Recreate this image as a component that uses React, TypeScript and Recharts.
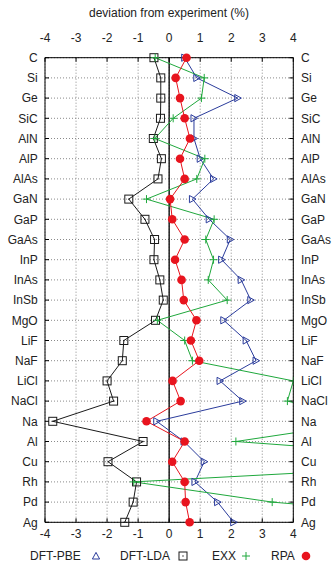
import React from 'react';
import {
  LineChart,
  Line,
  XAxis,
  YAxis,
  CartesianGrid,
  ReferenceLine,
} from 'recharts';

// materials, top to bottom
const materials = [
  'C', 'Si', 'Ge', 'SiC', 'AlN', 'AlP', 'AlAs', 'GaN', 'GaP', 'GaAs', 'InP', 'InAs',
  'InSb', 'MgO', 'LiF', 'NaF', 'LiCl', 'NaCl', 'Na', 'Al', 'Cu', 'Rh', 'Pd', 'Ag',
];

// deviation from experiment (%)
const pbeValues = [
  0.5, 0.89, 2.21, 0.8, 0.8, 1.0, 1.43, 0.75, 1.29, 1.97, 1.69, 2.32,
  2.63, 1.76, 2.48, 2.8, 1.64, 2.37, -0.4, 0.48, 1.13, 0.83, 1.56, 2.08,
];
const ldaValues = [
  -0.49, -0.27, -0.27, -0.28, -0.51, -0.25, -0.36, -1.3, -0.78, -0.47, -0.49, -0.3,
  -0.19, -0.44, -1.46, -1.51, -2.0, -1.79, -3.75, -0.84, -1.97, -1.05, -1.16, -1.43,
];
// some EXX values run off the right edge of the plot
const exxValues = [
  -0.45, 1.13, 1.04, 0.13, -0.46, 1.15, 0.89, -0.73, 1.45, 1.18, 1.43, 1.26,
  1.87, -0.38, 0.5, 0.75, 4.0, 3.81, 6.5, 2.15, 11.0, -1.14, 3.32, 11.0,
];
const rpaValues = [
  0.56, 0.21, 0.35, 0.5, 0.67, 0.35, 0.5, 0.03, 0.1, 0.5, 0.19, 0.4,
  0.47, 0.88, 0.7, 0.97, 0.11, 0.37, -0.73, 0.5, 0.1, 0.5, 0.53, 0.66,
];

const xTicks = [-4, -3, -2, -1, 0, 1, 2, 3, 4];

const COLORS = {
  pbe: '#2b3c9c',
  lda: '#1a1a1a',
  exx: '#1fa83c',
  rpa: '#e8141e',
  grid: '#8a8a8a',
  text: '#222',
};

const data = materials.map((name, i) => ({
  name,
  pbe: pbeValues[i],
  lda: ldaValues[i],
  exx: exxValues[i],
  rpa: rpaValues[i],
}));

const tickStyle = { fill: COLORS.text, fontSize: 12 };

function TriDot(props: any) {
  const { cx, cy, index } = props;
  if (cx == null || cy == null) return <g key={index} />;
  return (
    <polygon
      key={index}
      points={`${cx - 3},${cy - 3.6} ${cx - 3},${cy + 3.6} ${cx + 3.6},${cy}`}
      fill="none"
      stroke={COLORS.pbe}
      strokeWidth={1}
    />
  );
}

function SquareDot(props: any) {
  const { cx, cy, index } = props;
  if (cx == null || cy == null) return <g key={index} />;
  return (
    <g key={index}>
      <rect x={cx - 4} y={cy - 4} width={8} height={8} fill="none" stroke={COLORS.lda} strokeWidth={1} />
      <rect x={cx - 0.6} y={cy - 0.6} width={1.2} height={1.2} fill={COLORS.lda} />
    </g>
  );
}

function PlusDot(props: any) {
  const { cx, cy, index } = props;
  if (cx == null || cy == null) return <g key={index} />;
  return (
    <path
      key={index}
      d={`M${cx - 4},${cy}H${cx + 4}M${cx},${cy - 4}V${cy + 4}`}
      stroke={COLORS.exx}
      strokeWidth={1}
    />
  );
}

function CircleDot(props: any) {
  const { cx, cy, index } = props;
  if (cx == null || cy == null) return <g key={index} />;
  return <circle key={index} cx={cx} cy={cy} r={4.3} fill={COLORS.rpa} />;
}

// legend entries: label first, then the marker (gnuplot style)
const legendItems = [
  { label: 'DFT-PBE', x: 30, mx: 96, kind: 'tri' },
  { label: 'DFT-LDA', x: 120, mx: 183, kind: 'sq' },
  { label: 'EXX', x: 212, mx: 246, kind: 'plus' },
  { label: 'RPA', x: 271, mx: 306, kind: 'circ' },
];

function LegendMarker({ kind, x, y }: { kind: string; x: number; y: number }) {
  if (kind === 'tri')
    return (
      <polygon
        points={`${x - 3.6},${y + 3} ${x + 3.6},${y + 3} ${x},${y - 3.6}`}
        fill="none"
        stroke={COLORS.pbe}
      />
    );
  if (kind === 'sq')
    return (
      <g>
        <rect x={x - 4} y={y - 4} width={8} height={8} fill="none" stroke={COLORS.lda} />
        <rect x={x - 0.6} y={y - 0.6} width={1.2} height={1.2} fill={COLORS.lda} />
      </g>
    );
  if (kind === 'plus')
    return <path d={`M${x - 4},${y}H${x + 4}M${x},${y - 4}V${y + 4}`} stroke={COLORS.exx} />;
  return <circle cx={x} cy={y} r={4.3} fill={COLORS.rpa} />;
}

export default function App() {
  return (
    <div
      style={{
        position: 'absolute',
        left: 0,
        top: 0,
        width: 333,
        height: 562,
        background: '#fff',
        fontFamily: '"Liberation Sans", Arial, sans-serif',
      }}
    >
      <div
        style={{
          position: 'absolute',
          left: 0,
          top: 6,
          width: 338,
          textAlign: 'center',
          fontSize: 12,
          color: COLORS.text,
        }}
      >
        deviation from experiment (%)
      </div>

      <LineChart
        width={333}
        height={562}
        data={data}
        layout="vertical"
        margin={{ top: 37.7, right: 4.7, bottom: 19.7, left: 5 }}
      >
        <CartesianGrid
          xAxisId="bottom"
          yAxisId="left"
          stroke={COLORS.grid}
          strokeDasharray="1 2"
        />
        <XAxis
          xAxisId="top"
          orientation="top"
          type="number"
          domain={[-4, 4]}
          ticks={xTicks}
          allowDataOverflow
          height={20}
          tickSize={-4}
          tickMargin={20}
          tick={tickStyle}
          stroke="#000"
        />
        <XAxis
          xAxisId="bottom"
          orientation="bottom"
          type="number"
          domain={[-4, 4]}
          ticks={xTicks}
          allowDataOverflow
          height={20}
          tickSize={-4}
          tickMargin={10.7}
          tick={tickStyle}
          stroke="#000"
        />
        <YAxis
          yAxisId="left"
          type="category"
          dataKey="name"
          width={40}
          tickSize={-4}
          tickMargin={11.3}
          tick={tickStyle}
          interval={0}
          stroke="#000"
        />
        <YAxis
          yAxisId="right"
          orientation="right"
          type="category"
          dataKey="name"
          width={35}
          tickSize={-4}
          tickMargin={11.7}
          tick={{ ...tickStyle, textAnchor: 'start' }}
          interval={0}
          stroke="#000"
        />
        <ReferenceLine x={0} xAxisId="bottom" yAxisId="left" stroke="#000" strokeWidth={1.3} />

        <Line
          xAxisId="bottom"
          yAxisId="left"
          dataKey="lda"
          stroke={COLORS.lda}
          strokeWidth={1}
          dot={SquareDot}
          isAnimationActive={false}
        />
        <Line
          xAxisId="bottom"
          yAxisId="left"
          dataKey="pbe"
          stroke={COLORS.pbe}
          strokeWidth={1}
          dot={TriDot}
          isAnimationActive={false}
        />
        <Line
          xAxisId="bottom"
          yAxisId="left"
          dataKey="exx"
          stroke={COLORS.exx}
          strokeWidth={1}
          dot={PlusDot}
          isAnimationActive={false}
        />
        <Line
          xAxisId="bottom"
          yAxisId="left"
          dataKey="rpa"
          stroke={COLORS.rpa}
          strokeWidth={1}
          dot={CircleDot}
          isAnimationActive={false}
        />
      </LineChart>

      <svg
        style={{ position: 'absolute', left: 0, top: 0, pointerEvents: 'none' }}
        width={333}
        height={562}
      >
        {legendItems.map((item) => (
          <g key={item.label}>
            <text x={item.x} y={560} fontSize={12} fill={COLORS.text}>
              {item.label}
            </text>
            <LegendMarker kind={item.kind} x={item.mx} y={556} />
          </g>
        ))}
      </svg>
    </div>
  );
}
